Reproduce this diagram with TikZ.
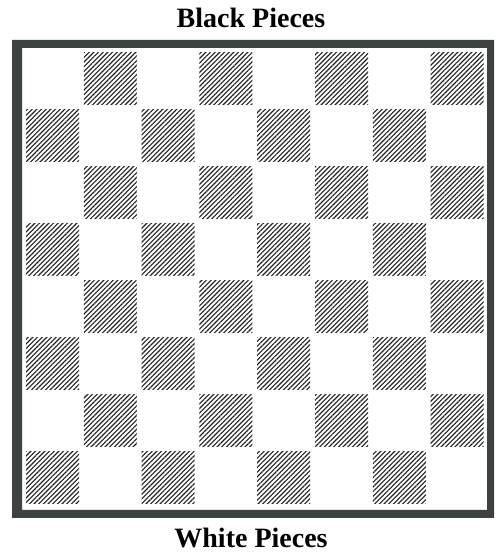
\documentclass[tikz,border=0pt]{standalone}
\usepackage{fontspec}
\setmainfont{Liberation Serif}
\usetikzlibrary{patterns.meta}
\definecolor{rim}{HTML}{3E4240}
\definecolor{hatch}{HTML}{222222}
\newcommand{\sidelabel}[1]{{\fontsize{28}{30}\selectfont\bfseries #1}}
\tikzset{darksq/.style={pattern={Lines[angle=45,distance=3.3pt,line width=1.15pt]},pattern color=hatch}}

\begin{document}
\begin{tikzpicture}[x=1pt,y=1pt]
  \useasboundingbox (0,0) rectangle (495,552);
  % board rim
  \fill[rim,even odd rule] (12,34) rectangle (494,512) (22,42) rectangle (487,504);
  \foreach \r in {0,...,7}{
    \foreach \c in {0,...,7}{
      \pgfmathparse{int(mod(\r+\c,2))}
      \ifnum\pgfmathresult=1
        \pgfmathsetmacro{\px}{26+\c*57.8}
        \pgfmathsetmacro{\py}{499-\r*57}
        \fill[darksq] (\px,\py) rectangle (\px+53,\py-52);
      \fi
    }
  }
  \node[anchor=base] (black) at (251,524) {\sidelabel{Black Pieces}};
  \node[anchor=base] (white) at (251,5) {\sidelabel{White Pieces}};
\end{tikzpicture}
\end{document}
